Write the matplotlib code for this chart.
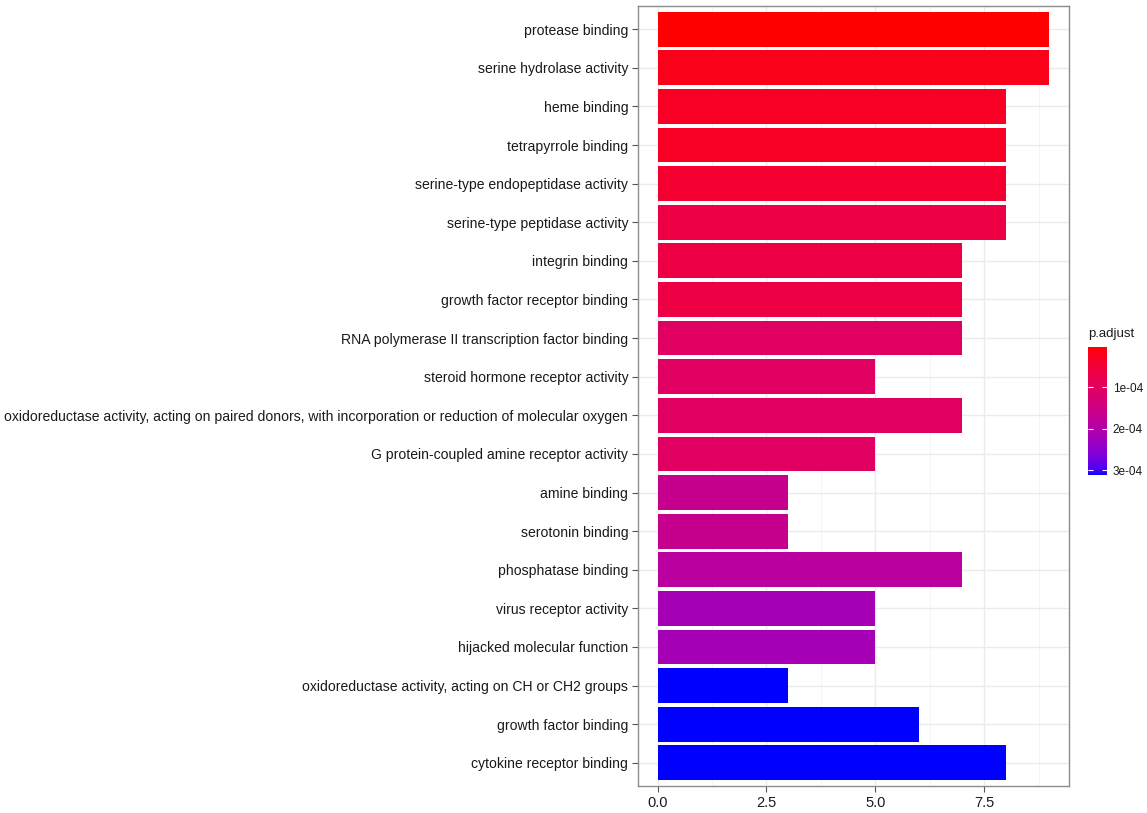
import numpy as np
import matplotlib
matplotlib.use('Agg')
import matplotlib.pyplot as plt
from matplotlib.colors import ListedColormap, Normalize
from matplotlib.cm import ScalarMappable

plt.rcParams['font.family'] = ['Liberation Sans', 'DejaVu Sans']

# GO terms, top to bottom
terms = [
    'protease binding',
    'serine hydrolase activity',
    'heme binding',
    'tetrapyrrole binding',
    'serine-type endopeptidase activity',
    'serine-type peptidase activity',
    'integrin binding',
    'growth factor receptor binding',
    'RNA polymerase II transcription factor binding',
    'steroid hormone receptor activity',
    'oxidoreductase activity, acting on paired donors, with incorporation or reduction of molecular oxygen',
    'G protein-coupled amine receptor activity',
    'amine binding',
    'serotonin binding',
    'phosphatase binding',
    'virus receptor activity',
    'hijacked molecular function',
    'oxidoreductase activity, acting on CH or CH2 groups',
    'growth factor binding',
    'cytokine receptor binding',
]
counts = [9, 9, 8, 8, 8, 8, 7, 7, 7, 5, 7, 5, 3, 3, 7, 5, 5, 3, 6, 8]
p_adjust = [3.6e-6, 1.9e-5, 2.8e-5, 2.8e-5, 4.1e-5, 6.5e-5, 6.5e-5, 6.5e-5,
            1.05e-4, 1.05e-4, 1.05e-4, 1.05e-4, 1.64e-4, 1.64e-4, 1.88e-4,
            2.2e-4, 2.2e-4, 3.12e-4, 3.12e-4, 3.12e-4]

cb_ticks = [1e-4, 2e-4, 3e-4]
cb_labels = ['1e-04', '2e-04', '3e-04']
x_ticks = [0, 2.5, 5, 7.5]
x_labels = ['0.0', '2.5', '5.0', '7.5']


# red -> blue gradient interpolated in CIELAB, like ggplot's default
def srgb_to_lab(rgb):
    c = np.array(rgb, dtype=float)
    lin = np.where(c <= 0.04045, c / 12.92, ((c + 0.055) / 1.055) ** 2.4)
    m = np.array([[0.4124, 0.3576, 0.1805],
                  [0.2126, 0.7152, 0.0722],
                  [0.0193, 0.1192, 0.9505]])
    xyz = m @ lin / np.array([0.95047, 1.0, 1.08883])
    f = np.where(xyz > 0.008856, np.cbrt(xyz), 7.787 * xyz + 16 / 116)
    return np.array([116 * f[1] - 16, 500 * (f[0] - f[1]), 200 * (f[1] - f[2])])


def lab_to_srgb(lab):
    L, a, b = lab
    fy = (L + 16) / 116
    fx = fy + a / 500
    fz = fy - b / 200
    f = np.array([fx, fy, fz])
    xyz = np.where(f ** 3 > 0.008856, f ** 3, (f - 16 / 116) / 7.787)
    xyz *= np.array([0.95047, 1.0, 1.08883])
    m = np.array([[3.2406, -1.5372, -0.4986],
                  [-0.9689, 1.8758, 0.0415],
                  [0.0557, -0.2040, 1.0570]])
    lin = np.clip(m @ xyz, 0, 1)
    c = np.where(lin <= 0.0031308, 12.92 * lin, 1.055 * lin ** (1 / 2.4) - 0.055)
    return np.clip(c, 0, 1)


lab_lo = srgb_to_lab([1, 0, 0])
lab_hi = srgb_to_lab([0, 0, 1])
cmap = ListedColormap([lab_to_srgb(lab_lo + (lab_hi - lab_lo) * t)
                       for t in np.linspace(0, 1, 256)])
norm = Normalize(vmin=min(p_adjust), vmax=max(p_adjust))

fig = plt.figure(figsize=(11.47, 8.13), dpi=100)
ax = fig.add_axes([0.5562, 0.0332, 0.3758, 0.9594])

ypos = np.arange(len(terms))
ax.barh(ypos, counts, height=0.9, color=cmap(norm(np.array(p_adjust))), zorder=3)

ax.set_yticks(ypos)
ax.set_yticklabels(terms, fontsize=10.1, color='#1a1a1a')
ax.set_ylim(len(terms) - 0.4, -0.6)
ax.set_xlim(-0.45, 9.45)
ax.set_xticks(x_ticks)
ax.set_xticklabels(x_labels, fontsize=10.5, color='#1a1a1a')
ax.set_xticks([1.25, 3.75, 6.25, 8.75], minor=True)
ax.tick_params(axis='both', which='major', length=4, width=0.8, color='#555555', pad=3)
ax.tick_params(axis='x', which='minor', length=0)

ax.grid(True, which='major', color='#ebebeb', linewidth=1.0, zorder=0)
ax.grid(True, which='minor', axis='x', color='#f2f2f2', linewidth=0.6, zorder=0)
ax.set_axisbelow(True)
for s in ax.spines.values():
    s.set_color('#8c8c8c')
    s.set_linewidth(1.0)

# colour legend for p.adjust
cax = fig.add_axes([0.9486, 0.4157, 0.0166, 0.1574])
cb = fig.colorbar(ScalarMappable(norm=norm, cmap=cmap), cax=cax)
cb.outline.set_visible(False)
cax.invert_yaxis()
cb.set_ticks(cb_ticks)
cb.set_ticklabels(cb_labels)
cax.yaxis.set_ticks_position('both')
cax.tick_params(length=3.5, width=0.8, color='white', direction='in', labelsize=8.5,
                labelcolor='#1a1a1a', pad=4, labelleft=False, labelright=True)
cax.set_title('p.adjust', fontsize=9.5, loc='left', pad=7, color='#1a1a1a')

fig.savefig('out.png', dpi=100)
